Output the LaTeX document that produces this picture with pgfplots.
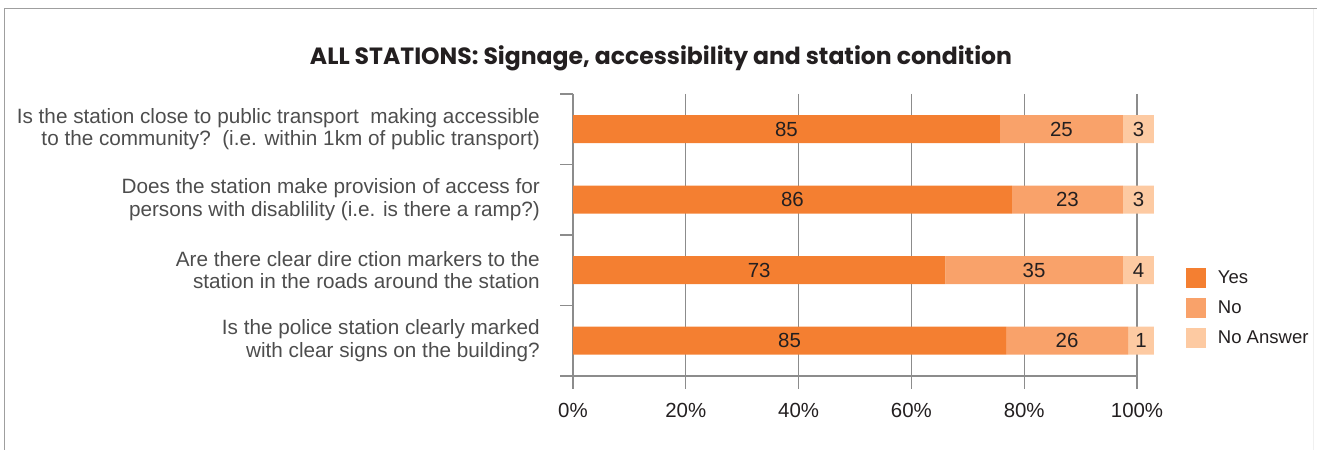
\documentclass[border=0pt]{standalone}
\usepackage{pgfplots}
\pgfplotsset{compat=1.18}
\usepackage{pgfplotstable}
\usepackage{fontspec}
\setmainfont{Liberation Sans}
\newfontfamily\titlefont{Poppins}
\definecolor{cyes}{HTML}{F47F31}
\definecolor{cno}{HTML}{F9A26A}
\definecolor{cna}{HTML}{FDCAA2}
\definecolor{gridc}{HTML}{8C8C8C}
\definecolor{txt}{HTML}{231F20}
\definecolor{lab}{HTML}{4D4D4D}

\pgfplotstableread{
idx yes no na yl nl al yc nc ac
0 75.7 21.8 5.5 85 25 3 37.85 86.6 100.25
1 77.8 19.7 5.5 86 23 3 38.9 87.65 100.25
2 66.0 31.5 5.5 73 35 4 33.0 81.75 100.25
3 76.8 21.6 4.6 85 26 1 38.4 87.6 100.7
}\data

\begin{document}
\begin{tikzpicture}[x=1bp,y=1bp]
\path[use as bounding box] (0,0) rectangle (1317,450);
\draw[gray!75, line width=1bp] (4,0) -- (4,441) -- (1317,441);
\draw[gray!12, line width=1bp] (1313,441) -- (1313,0);
\node[font=\titlefont\bfseries\fontsize{23.6}{27}\selectfont, text=txt, anchor=base] at (661,385) {ALL STATIONS: Signage, accessibility and station condition};
\pgfplotsset{common/.style={scale only axis, width=564bp, height=282bp,
  xmin=0, xmax=100, ymin=-0.5, ymax=3.5, y dir=reverse,
  at={(573bp,74bp)}, anchor=south west, clip=false}}
\begin{axis}[common, xbar stacked, bar width=28bp,
  axis x line*=bottom, axis y line*=left,
  axis line style={gridc, line width=1.2bp},
  tick align=outside, major tick length=13bp,
  tick style={gridc, line width=1.2bp},
  /pgf/number format/assume math mode=true,
  xmajorgrids, grid style={gridc, line width=1.2bp},
  xtick={0,20,...,100},
  xticklabel={\pgfmathprintnumber{\tick}\%},
  xticklabel style={font=\fontsize{20.5}{23}\selectfont, text=txt, yshift=-11bp},
  ytick={-0.5,0.5,1.5,2.5,3.5},
  yticklabels={},
  extra y ticks={0,1,2,3},
  extra y tick style={major tick length=0pt, tick style={draw=none}},
  extra y tick labels={{Is the station close to public transport\ \ making accessible\\to the community?\ \ (i.e. within 1km of public transport)},
    {Does the station make provision of access for\\persons with disablility (i.e. is there a ramp?)},
    {Are there clear dire ction markers to the\\station in the roads around the station},
    {Is the police station clearly marked\\with clear signs on the building?}},
  yticklabel style={font=\fontsize{20.8}{22.5}\selectfont, text=lab, align=right, inner sep=0pt, xshift=-33bp},
  legend style={at={(1.081,0.39)}, anchor=north west, draw=none, fill=none,
    font=\fontsize{18.6}{22}\selectfont, text=txt, row sep=10bp,
    nodes={inner sep=0pt, anchor=west}, column sep=12bp},
  legend cell align=left,
  legend image code/.code={\fill[#1] (0bp,-10bp) rectangle (20bp,10bp);},
]
\addplot[fill=cyes, draw=none] table[x=yes, y=idx] {\data};
\addplot[fill=cno, draw=none] table[x=no, y=idx] {\data};
\addplot[fill=cna, draw=none] table[x=na, y=idx] {\data};
\legend{Yes, No, No Answer}
\end{axis}
\begin{axis}[common, hide axis]
\pgfplotsset{lbl/.style={draw=none, mark=none, nodes near coords, point meta=explicit symbolic,
  every node near coord/.style={anchor=center, font=\fontsize{20.5}{23}\selectfont, text=txt, inner sep=0pt}}}
\addplot[lbl] table[x=yc, y=idx, meta=yl] {\data};
\addplot[lbl] table[x=nc, y=idx, meta=nl] {\data};
\addplot[lbl] table[x=ac, y=idx, meta=al] {\data};
\end{axis}
\end{tikzpicture}
\end{document}
